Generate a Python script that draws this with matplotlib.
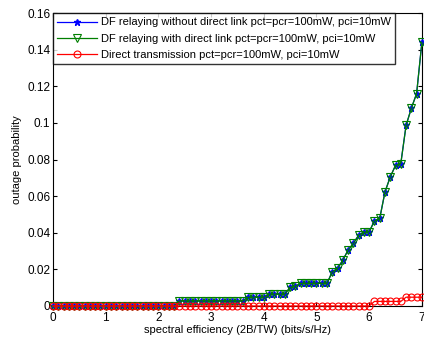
import numpy as np
import matplotlib
matplotlib.use("Agg")
import matplotlib.pyplot as plt

plt.rcParams['font.family'] = ['Liberation Sans', 'DejaVu Sans']

# spectral efficiency grid (bits/s/Hz)
x = np.round(np.arange(0, 71) * 0.1, 1)

df_no_direct = [0.0] * 24 + [0.0028] * 13 + [0.0048] * 4 + [0.0065] * 4 + \
    [0.0102, 0.0108] + [0.0124] * 6 + \
    [0.0187, 0.0205, 0.0251, 0.0305, 0.0342, 0.0387, 0.0403, 0.0405,
     0.0465, 0.0478, 0.0623, 0.0705, 0.0768, 0.0778, 0.0986, 0.108, 0.116, 0.144]
df_direct = list(df_no_direct)
direct_tx = [0.0] * 61 + [0.0025] * 6 + [0.0048] * 4

labels = ["DF relaying without direct link pct=pcr=100mW, pci=10mW",
          "DF relaying with direct link pct=pcr=100mW, pci=10mW",
          "Direct transmission pct=pcr=100mW, pci=10mW"]
yticks = [0, 0.02, 0.04, 0.06, 0.08, 0.1, 0.12, 0.14, 0.16]
yticklabels = ["0", "0.02", "0.04", "0.06", "0.08", "0.1", "0.12", "0.14", "0.16"]
xticks = [0, 1, 2, 3, 4, 5, 6, 7]

fig = plt.figure(figsize=(4.24, 3.38), dpi=100)
ax = fig.add_axes([0.125, 0.0947, 0.87, 0.8668])

ax.plot(x, df_no_direct, color='#0000ff', marker='*', markersize=5, lw=0.9,
        markerfacecolor='#0000ff', markeredgecolor='#0000ff', label=labels[0],
        clip_on=False, zorder=3)
ax.plot(x, df_direct, color='#007f00', marker='v', markersize=6, lw=0.9,
        markerfacecolor='none', markeredgecolor='#007f00', markeredgewidth=0.8,
        label=labels[1], clip_on=False, zorder=3)
ax.plot(x, direct_tx, color='#ff0000', marker='o', markersize=5, lw=0.9,
        markerfacecolor='none', markeredgecolor='#ff0000', markeredgewidth=0.8,
        label=labels[2], clip_on=False, zorder=4)

ax.set_xlim(0, 7)
ax.set_ylim(0, 0.16)
ax.set_xticks(xticks)
ax.set_yticks(yticks)
ax.set_yticklabels(yticklabels)
ax.tick_params(direction='in', length=3, width=0.8, labelsize=8.5,
               top=True, right=True, pad=2)
ax.tick_params(axis='x', pad=4)
for s in ax.spines.values():
    s.set_linewidth(0.8)
    s.set_zorder(2)
ax.set_xlabel("spectral efficiency (2B/TW) (bits/s/Hz)", fontsize=8, labelpad=1)
ax.set_ylabel("outage probability", fontsize=8, labelpad=4)

leg = ax.legend(loc='upper left', fontsize=8.0, frameon=True, fancybox=False,
                edgecolor='black', borderaxespad=0, handlelength=3.6,
                handletextpad=0.3, borderpad=0.4, labelspacing=0.55)
leg.get_frame().set_linewidth(1.0)
leg.set_zorder(5)

fig.savefig("out.png", dpi=100)
